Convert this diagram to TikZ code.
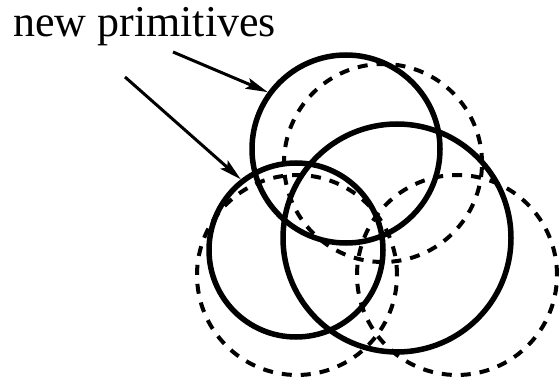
\documentclass[tikz,border=0pt]{standalone}
\usepackage{fontspec}
\setmainfont{Liberation Serif}
\usetikzlibrary{arrows.meta}
\begin{document}
\begin{tikzpicture}[x=1pt,y=-1pt,
  solidc/.style={circle, draw, line width=5.5pt, inner sep=0pt},
  dashc/.style={circle, draw, line width=4pt, dash pattern=on 10pt off 9pt, inner sep=0pt},
  arr/.style={line width=3pt, -{Stealth[length=22pt,width=11pt,inset=4pt]}}]
\useasboundingbox (0,0) rectangle (559,382);
% dashed (old) primitives
\node[dashc, minimum size=198pt] (Ad) at (383,163) {};
\node[dashc, minimum size=200pt] (Bd) at (297,275) {};
\node[dashc, minimum size=200pt] (Cd) at (457,275) {};
% solid (new) primitives
\node[solidc, minimum size=188pt] (A) at (346,149) {};
\node[solidc, minimum size=174pt] (B) at (296,250) {};
\node[solidc, minimum size=228pt] (C) at (397,238) {};
% label and arrows
\node[anchor=base west, inner sep=0pt, font=\fontsize{44}{50}\selectfont] (lab) at (13,37) {new primitives};
\coordinate (t1) at (173,52);
\coordinate (t2) at (125,77);
\draw[arr] (t1) -- (A.144);
\draw[arr] (t2) -- (B.128);
\end{tikzpicture}
\end{document}
